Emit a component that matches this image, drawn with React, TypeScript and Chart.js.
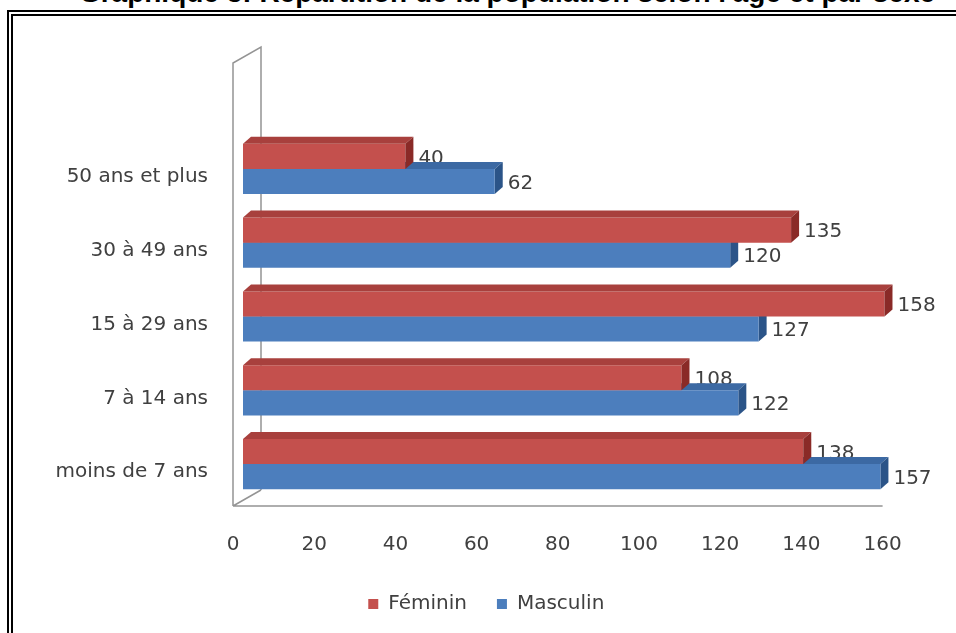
import React, { useEffect, useRef } from "react";
import { Chart, registerables } from "chart.js";

Chart.register(...registerables);

const categories = ["50 ans et plus", "30 à 49 ans", "15 à 29 ans", "7 à 14 ans", "moins de 7 ans"];
const feminin = [40, 135, 158, 108, 138];
const masculin = [62, 120, 127, 122, 157];
const seriesNames = ["Féminin", "Masculin"];
const xMin = 0;
const xMax = 160;
const xStep = 20;

const FRONT = ["#C4504D", "#4C7EBD"];
const TOP = ["#A8403D", "#3C69A3"];
const SIDE = ["#8A2A27", "#2B5488"];
const DX = 8;
const DY = 7;
const FONT = "'DejaVu Sans', sans-serif";
const LEGEND_SHIFT = 20;

function poly(ctx: CanvasRenderingContext2D, pts: number[][], color: string) {
  ctx.beginPath();
  ctx.moveTo(pts[0][0], pts[0][1]);
  for (let i = 1; i < pts.length; i++) ctx.lineTo(pts[i][0], pts[i][1]);
  ctx.closePath();
  ctx.fillStyle = color;
  ctx.fill();
}

function drawFaces(chart: any, di: number) {
  const ctx = chart.ctx as CanvasRenderingContext2D;
  const meta = chart.getDatasetMeta(di);
  meta.data.forEach((el: any) => {
    const { x, y, base, height } = el.getProps(["x", "y", "base", "height"], true);
    const top = y - height / 2;
    const bottom = y + height / 2;
    poly(ctx, [[base, top], [x, top], [x + DX, top - DY], [base + DX, top - DY]], TOP[di]);
    poly(ctx, [[x, top], [x + DX, top - DY], [x + DX, bottom - DY], [x, bottom]], SIDE[di]);
  });
}

function drawLabels(chart: any, di: number) {
  const ctx = chart.ctx as CanvasRenderingContext2D;
  const meta = chart.getDatasetMeta(di);
  const data = chart.data.datasets[di].data;
  ctx.save();
  ctx.fillStyle = "#404040";
  ctx.font = `20px ${FONT}`;
  ctx.textAlign = "left";
  ctx.textBaseline = "middle";
  meta.data.forEach((el: any, i: number) => {
    const { x, y } = el.getProps(["x", "y"], true);
    ctx.fillText(String(data[i]), x + DX + 5, y + 2);
  });
  ctx.restore();
}

const bar3d = {
  id: "bar3d",
  afterLayout(chart: any) {
    const lg = chart.legend;
    if (lg) {
      lg.left += LEGEND_SHIFT;
      lg.right += LEGEND_SHIFT;
    }
  },
  beforeDatasetsDraw(chart: any) {
    const ctx = chart.ctx as CanvasRenderingContext2D;
    const xs = chart.scales.x;
    const area = chart.chartArea;
    const fx0 = xs.getPixelForValue(xMin) - 10;
    const fx1 = xs.getPixelForValue(xMax) - 10;
    const fy = area.bottom + 5;
    const wallTop = area.top - 69;
    ctx.save();
    ctx.strokeStyle = "#949494";
    ctx.lineWidth = 1.5;
    ctx.beginPath();
    ctx.moveTo(fx0, fy);
    ctx.lineTo(fx0, wallTop);
    ctx.lineTo(fx0 + 28, wallTop - 16);
    ctx.lineTo(fx0 + 28, fy - 16);
    ctx.moveTo(fx0, fy);
    ctx.lineTo(fx0 + 28, fy - 16);
    ctx.moveTo(fx0, fy);
    ctx.lineTo(fx1, fy);
    ctx.stroke();
    ctx.restore();
    drawLabels(chart, 0);
    drawFaces(chart, 1);
  },
  afterDatasetsDraw(chart: any) {
    drawFaces(chart, 0);
    drawLabels(chart, 1);
  },
};

export default function App() {
  const ref = useRef<HTMLCanvasElement | null>(null);
  useEffect(() => {
    if (!ref.current) return;
    const chart = new Chart(ref.current, {
      type: "bar",
      data: {
        labels: categories,
        datasets: [
          { label: seriesNames[0], data: feminin, backgroundColor: FRONT[0], borderWidth: 0 },
          { label: seriesNames[1], data: masculin, backgroundColor: FRONT[1], borderWidth: 0 },
        ],
      },
      options: {
        indexAxis: "y",
        responsive: false,
        animation: false,
        devicePixelRatio: 1,
        categoryPercentage: 0.68,
        barPercentage: 1,
        layout: { padding: { left: 40, right: 63.4, top: 132, bottom: 9 } },
        scales: {
          x: {
            min: xMin,
            max: xMax,
            grid: { display: false, drawTicks: false },
            border: { display: false },
            afterFit: (s: any) => { s.height = 63; },
            ticks: {
              stepSize: xStep,
              padding: 32,
              labelOffset: -10,
              color: "#404040",
              font: { family: FONT, size: 20 },
            },
          },
          y: {
            grid: { display: false, drawTicks: false },
            border: { display: false },
            afterFit: (s: any) => { s.width = 203; },
            ticks: {
              padding: 35,
              labelOffset: 8,
              color: "#404040",
              font: { family: FONT, size: 20 },
            },
          },
        },
        plugins: {
          legend: {
            position: "bottom",
            labels: {
              boxWidth: 10,
              boxHeight: 10,
              padding: 30,
              color: "#404040",
              font: { family: FONT, size: 20 },
            },
          },
          tooltip: { enabled: false },
        },
      },
      plugins: [bar3d],
    });
    return () => chart.destroy();
  }, []);

  return (
    <div style={{ position: "fixed", inset: 0, overflow: "hidden", background: "#fff" }}>
      <div
        style={{
          position: "absolute",
          left: 7,
          top: 10,
          width: 3000,
          height: 3000,
          borderLeft: "6px double #000",
          borderTop: "6px double #000",
        }}
      />
      <div
        style={{
          position: "absolute",
          left: 507,
          top: -21.5,
          transform: "translateX(-50%)",
          whiteSpace: "nowrap",
          fontFamily: "'Liberation Sans', Arial, sans-serif",
          fontWeight: "bold",
          fontSize: 28,
          lineHeight: "28px",
          color: "#000",
        }}
      >
        Graphique 3: Répartition de la population selon l'âge et par sexe
      </div>
      <canvas
        ref={ref}
        width={956}
        height={633}
        style={{ position: "absolute", left: 0, top: 0, width: 956, height: 633 }}
      />
    </div>
  );
}
